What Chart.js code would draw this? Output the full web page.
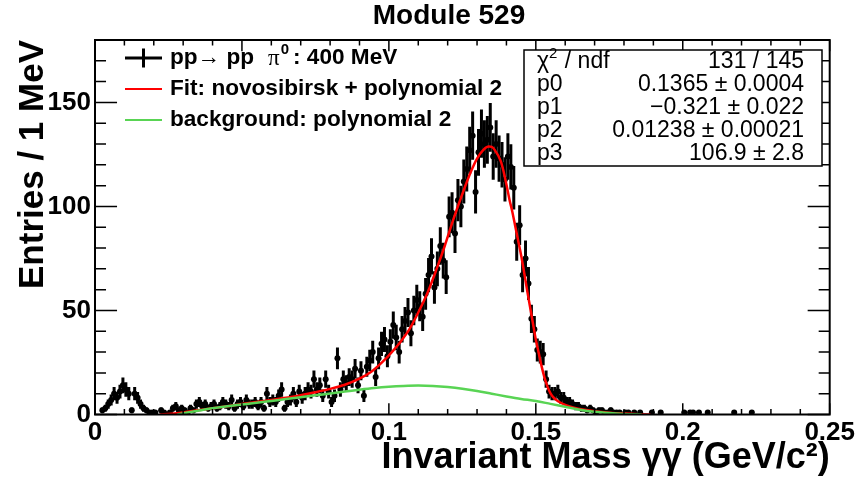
<!DOCTYPE html>
<html><head><meta charset="utf-8">
<script src="https://cdn.jsdelivr.net/npm/chart.js@4.4.1/dist/chart.umd.min.js"></script>
<style>html,body{margin:0;padding:0;background:#fff;}#wrap{width:858px;height:481px;}</style>
</head><body><div id="wrap"><canvas id="c" width="858" height="481"></canvas></div>
<script>
// ---------- data ----------
const binWidth = 0.001; // GeV (1 MeV bins)
const counts = [
 null,null,2,3,5,7,10,8,11,14, 12,10,2,10,8,5,3,2,1,1,
 1,null,2,1,null,1,3,4,2,3, 2,1,3,2,5,6,4,5,3,4,
 5,3,4,6,5,4,7,3,5,6, 4,7,5,5,6,4,6,3,10,6,
 7,6,9,12,3,6,7,10,6,11, 8,10,12,11,17,12,14,9,17,11,
 6,9,27,12,17,15,18,17,22,14, 21,9,23,26,30,18,27,34,36,28,
 35,43,37,30,41,45,49,39,50,55, 52,47,58,67,76,61,70,81,74,66,
 95,97,87,103,100,112,118,127,134,107, 126,135,130,132,138,124,130,123,120,113,
 124,119,109,83,91,67,75,63,46,41, 31,30,29,17,11,10,10,11,8,8,
 6,6,5,4,4,3,3,2,3,2, 1,2,2,1,1,2,1,1,1,null,
 1,1,null,1,null,1,null,null,null,1, null,null,1,null,null,null,null,null,null,null,
 1,null,1,1,null,1,null,null,1,null, null,null,null,null,null,null,null,1,null,null,
 null,null,null,1,null,null,null,null,null,null, null,null,null,null,null,null,null,null,null,null,
 null,null,null,null,null,null,null,null,null,null
];
// fit curve (novosibirsk + pol2): x in MeV
const fitX = [22,26,30,35,40,45,50,55,60,65,70,75,80,85,90,94,98,101,104,107,110,113,116,119,122,125,128,130,132,134,135,136,138,139,140,141,142,143,144,145,146,147,148,149,150,151,152,153,154,155,156,157,158,160,163,166,170,175,180,185,189];
const fitY = [0,0.4,1.0,2.0,3.0,4.0,5.0,6.0,7.0,8.0,9.3,10.7,12.3,14.3,17.2,20.5,25.5,30,35,41,49,58,69,81,94,106,117,123,127,128.8,128.6,127.2,122,117,110.5,103.5,97.5,90.5,83.5,76.5,68.5,60,52,44,36,29.5,23,17.5,13.3,10.2,8.2,7.0,6.0,4.6,3.3,2.4,1.6,0.9,0.45,0.15,0.0];
// background pol2: x in MeV
const bkgX = [28,31,35,40,45,50,55,60,65,70,75,80,85,90,95,100,105,110,115,120,125,130,135,140,145,150,155,160,165,170,175,180,186];
const bkgY = [0,0.8,1.8,3.0,4.0,4.8,5.6,6.5,7.4,8.3,9.2,10.1,11.0,11.9,12.7,13.3,13.7,13.9,13.7,13.2,12.4,11.3,10.0,8.7,7.5,6.5,5.1,3.7,2.3,1.3,0.7,0.3,0];
const xTickLabels = ['0','0.05','0.1','0.15','0.2','0.25'];
const yTickLabels = ['0','50','100','150'];
const titleText = 'Module 529';
const xTitle = 'Invariant Mass \u03b3\u03b3 (GeV/c\u00b2)';
const yTitle = 'Entries / 1 MeV';
const legendFit = 'Fit: novosibirsk + polynomial 2';
const legendBkg = 'background: polynomial 2';
const statsLabels = ['p0','p1','p2','p3'];
const statsValues = ['131 / 145','0.1365 \u00b1 0.0004','\u22120.321 \u00b1 0.022','0.01238 \u00b1 0.00021','106.9 \u00b1 2.8'];

// ---------- build datasets ----------
const pts = [];
counts.forEach((v,i)=>{ if(v!==null) pts.push({x:(i+0.5)*binWidth, y:v}); });
const fitPts = fitX.map((x,i)=>({x:x/1000, y:fitY[i]}));
const bkgPts = bkgX.map((x,i)=>({x:x/1000, y:bkgY[i]}));

const FONT = '"Liberation Sans", Arial, Helvetica, sans-serif';
Chart.defaults.font.family = FONT;
Chart.defaults.color = '#000';

const errorBars = {
  id:'errorBars',
  beforeDatasetsDraw(chart){
    const {ctx, chartArea:a, scales:{x,y}} = chart;
    const ds = chart.data.datasets[0];
    ctx.save();
    ctx.beginPath(); ctx.rect(a.left,a.top,a.right-a.left,a.bottom-a.top); ctx.clip();
    ctx.strokeStyle='#000'; ctx.lineWidth=3;
    ds.data.forEach(p=>{
      const e=Math.sqrt(p.y);
      const px=x.getPixelForValue(p.x), py=y.getPixelForValue(p.y);
      ctx.beginPath();
      ctx.moveTo(px,y.getPixelForValue(p.y-e)); ctx.lineTo(px,y.getPixelForValue(p.y+e));
      ctx.moveTo(x.getPixelForValue(p.x-binWidth/2),py); ctx.lineTo(x.getPixelForValue(p.x+binWidth/2),py);
      ctx.stroke();
    });
    ctx.restore();
  }
};

const decor = {
  id:'decor',
  afterDraw(chart){
    const {ctx, chartArea:a, scales:{x,y}} = chart;
    ctx.save();
    ctx.strokeStyle='#000'; ctx.lineWidth=2;
    ctx.strokeRect(a.left,a.top,a.right-a.left,a.bottom-a.top);
    const H=a.bottom-a.top, W=a.right-a.left;
    ctx.lineWidth=1.5;
    ctx.beginPath();
    x.ticks.forEach(t=>{
      const px=x.getPixelForValue(t.value);
      const L = (Math.round(t.value*1000)%50===0)?0.03*H:0.015*H;
      ctx.moveTo(px,a.bottom); ctx.lineTo(px,a.bottom-L);
      ctx.moveTo(px,a.top); ctx.lineTo(px,a.top+L);
    });
    y.ticks.forEach(t=>{
      const py=y.getPixelForValue(t.value);
      const L = (Math.round(t.value)%50===0)?0.03*W:0.015*W;
      ctx.moveTo(a.left,py); ctx.lineTo(a.left+L,py);
      ctx.moveTo(a.right,py); ctx.lineTo(a.right-L,py);
    });
    ctx.stroke();
    // title
    ctx.fillStyle='#000';
    ctx.font='bold 28px '+FONT; ctx.textAlign='center'; ctx.textBaseline='middle';
    ctx.fillText(titleText, 449, 16);
    // legend
    const lx0=125, lx1=162, tx=170;
    const rows=[58,89,120];
    ctx.lineWidth=3; ctx.strokeStyle='#000';
    ctx.beginPath(); ctx.moveTo(lx0,rows[0]); ctx.lineTo(lx1,rows[0]);
    ctx.moveTo((lx0+lx1)/2,rows[0]-9.5); ctx.lineTo((lx0+lx1)/2,rows[0]+9.5); ctx.stroke();
    ctx.lineWidth=2;
    ctx.strokeStyle='#ff0000'; ctx.beginPath(); ctx.moveTo(lx0,rows[1]); ctx.lineTo(lx1,rows[1]); ctx.stroke();
    ctx.strokeStyle='#59d454'; ctx.beginPath(); ctx.moveTo(lx0,rows[2]); ctx.lineTo(lx1,rows[2]); ctx.stroke();
    ctx.textAlign='left'; ctx.textBaseline='middle';
    const B='bold 22.6px '+FONT;
    let cx=tx;
    ctx.font=B; ctx.fillText('pp\u2192 pp',cx,rows[0]); cx+=ctx.measureText('pp\u2192 pp').width+14;
    ctx.font='23px "Liberation Serif", serif'; ctx.fillText('\u03c0',cx,rows[0]+1); cx+=ctx.measureText('\u03c0').width+1;
    ctx.font='bold 15px '+FONT; ctx.fillText('0',cx,rows[0]-8); cx+=ctx.measureText('0').width+4;
    ctx.font=B; ctx.fillText(': 400 MeV',cx,rows[0]);
    ctx.fillText(legendFit,tx,rows[1]);
    ctx.fillText(legendBkg,tx,rows[2]);
    // stats box
    const bx=524, by=50, bw=298, bh=116;
    ctx.fillStyle='#fff'; ctx.fillRect(bx,by,bw,bh);
    ctx.strokeStyle='#000'; ctx.lineWidth=1.5; ctx.strokeRect(bx,by,bw,bh);
    ctx.fillStyle='#000';
    const sr=[62,85,108,131,154];
    ctx.font='23px '+FONT; ctx.textAlign='left';
    let sx=537;
    ctx.fillText('\u03c7',sx,sr[0]); sx+=ctx.measureText('\u03c7').width;
    ctx.font='15px '+FONT; ctx.fillText('2',sx,sr[0]-8); sx+=ctx.measureText('2').width+1;
    ctx.font='23px '+FONT; ctx.fillText(' / ndf',sx,sr[0]);
    statsLabels.forEach((s,i)=>ctx.fillText(s,537,sr[i+1]));
    ctx.textAlign='right';
    statsValues.forEach((s,i)=>ctx.fillText(s,804,sr[i]));
    ctx.restore();
  }
};

new Chart(document.getElementById('c'), {
  type:'scatter',
  data:{datasets:[
    {label:'data', data:pts, pointRadius:3, pointHoverRadius:3, backgroundColor:'#000', borderColor:'#000', borderWidth:0, showLine:false, order:3},
    {label:'fit', data:fitPts, showLine:true, borderColor:'#ff0000', borderWidth:2.5, pointRadius:0, cubicInterpolationMode:'monotone', fill:false, order:2},
    {label:'bkg', data:bkgPts, showLine:true, borderColor:'#59d454', borderWidth:2.5, pointRadius:0, cubicInterpolationMode:'monotone', fill:false, order:1}
  ]},
  options:{
    responsive:false, animation:false, devicePixelRatio:1,
    layout:{padding:{left:0,right:27,top:40,bottom:0}},
    plugins:{legend:{display:false}, tooltip:{enabled:false}, title:{display:false}},
    scales:{
      x:{type:'linear', min:0, max:0.25,
        afterFit(s){ s.height=66.5; },
        grid:{display:false, drawTicks:false}, border:{display:false},
        ticks:{stepSize:0.01, autoSkip:false, maxRotation:0, padding:3,
          font:{size:26, weight:'bold'},
          callback(v){ const k=Math.round(v*1000); return k%50===0 ? xTickLabels[k/50] : ''; }},
        title:{display:true, text:xTitle, align:'end', font:{size:36, weight:'bold'}, padding:{top:0,bottom:1}}
      },
      y:{type:'linear', min:0, max:180,
        afterFit(s){ s.width=95; },
        grid:{display:false, drawTicks:false}, border:{display:false},
        ticks:{stepSize:10, autoSkip:false, padding:4,
          font:{size:26, weight:'bold'},
          callback(v){ const k=Math.round(v); return k%50===0 ? yTickLabels[k/50] : ''; }},
        title:{display:true, text:yTitle, align:'end', font:{size:35, weight:'bold'}, padding:{top:12,bottom:0}}
      }
    }
  },
  plugins:[errorBars, decor]
});
</script></body></html>
